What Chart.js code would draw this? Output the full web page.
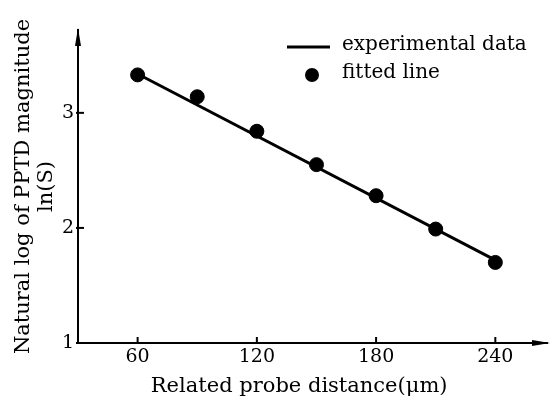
<!DOCTYPE html>
<html><head><meta charset="utf-8">
<script src="https://cdn.jsdelivr.net/npm/chart.js@4/dist/chart.umd.min.js"></script>
<style>html,body{margin:0;padding:0;background:#fff}#wrap{width:555px;height:397px}</style>
</head><body><div id="wrap"><canvas id="c" width="555" height="397"></canvas></div>
<script>
const distances = [60, 90, 120, 150, 180, 210, 240];
const lnS = [3.33, 3.14, 2.84, 2.55, 2.28, 1.99, 1.70];
const fitX = [62, 240];
const fitY = [3.32, 1.72];
const xTicks = [60, 120, 180, 240];
const yTicks = [1, 2, 3];
const lineLabel = 'experimental data';
const dotLabel = 'fitted line';
const xTitle = 'Related probe distance(\u03bcm)    ';
const yTitle = ['Natural log of PPTD magnitude', 'ln(S)'];

const FONT = '"DejaVu Serif", "Liberation Serif", serif';

const decor = {
  id: 'decor',
  afterDraw(chart) {
    const ctx = chart.ctx, xs = chart.scales.x, ys = chart.scales.y;
    const ca = chart.chartArea;
    ctx.save();
    ctx.strokeStyle = '#000'; ctx.fillStyle = '#000'; ctx.lineWidth = 2;
    xTicks.forEach(v => { const px = xs.getPixelForValue(v); ctx.beginPath(); ctx.moveTo(px, ca.bottom); ctx.lineTo(px, ca.bottom - 6); ctx.stroke(); });
    yTicks.forEach(v => { const py = ys.getPixelForValue(v); ctx.beginPath(); ctx.moveTo(ca.left - 2, py); ctx.lineTo(ca.left + 6, py); ctx.stroke(); });
    ctx.beginPath(); ctx.moveTo(ca.left, ca.top - 2); ctx.lineTo(ca.left - 3, ca.top + 16); ctx.lineTo(ca.left + 3, ca.top + 16); ctx.closePath(); ctx.fill();
    ctx.beginPath(); ctx.moveTo(ca.right + 3, ca.bottom); ctx.lineTo(ca.right - 15, ca.bottom - 3); ctx.lineTo(ca.right - 15, ca.bottom + 3); ctx.closePath(); ctx.fill();
    const lx = 287, ly1 = 47, ly2 = 75, tx = 342;
    ctx.lineWidth = 3;
    ctx.beginPath(); ctx.moveTo(lx, ly1); ctx.lineTo(lx + 43, ly1); ctx.stroke();
    ctx.beginPath(); ctx.arc(lx + 25, ly2, 7, 0, Math.PI * 2); ctx.fill();
    ctx.font = '20px ' + FONT; ctx.textBaseline = 'middle'; ctx.textAlign = 'left';
    ctx.fillText(lineLabel, tx, ly1 - 2);
    ctx.fillText(dotLabel, tx, ly2 - 2);
    ctx.restore();
  }
};

new Chart(document.getElementById('c'), {
  type: 'scatter',
  data: {
    datasets: [
      { label: lineLabel, type: 'line', data: fitX.map((x, i) => ({x, y: fitY[i]})), borderColor: '#000', borderWidth: 3, pointRadius: 0, fill: false, order: 2 },
      { label: dotLabel, data: distances.map((x, i) => ({x, y: lnS[i]})), backgroundColor: '#000', borderColor: '#000', pointRadius: 7, order: 1 }
    ]
  },
  options: {
    responsive: false, animation: false,
    layout: { padding: { top: 30, right: 5, left: 0, bottom: 0 } },
    plugins: { legend: { display: false }, tooltip: { enabled: false } },
    scales: {
      x: {
        type: 'linear', min: 30, max: 266,
        afterBuildTicks: s => { s.ticks = xTicks.map(v => ({value: v})); },
        afterFit: s => { s.height = 54; },
        grid: { display: false, drawTicks: false },
        border: { display: true, color: '#000', width: 2 },
        ticks: { color: '#000', font: { family: FONT, size: 19 }, padding: 3 },
        title: { display: true, text: xTitle, color: '#000', font: { family: FONT, size: 21, lineHeight: 1.0 }, padding: { top: 0, bottom: 0 } }
      },
      y: {
        type: 'linear', min: 1, max: 3.72,
        afterBuildTicks: s => { s.ticks = yTicks.map(v => ({value: v})); },
        afterFit: s => { s.width = 78; },
        grid: { display: false, drawTicks: false },
        border: { display: true, color: '#000', width: 2 },
        ticks: { color: '#000', font: { family: FONT, size: 19 }, padding: 4 },
        title: { display: true, text: yTitle, color: '#000', font: { family: FONT, size: 21, lineHeight: 1.05 }, padding: { top: 13, bottom: 0 } }
      }
    }
  },
  plugins: [decor]
});
</script></body></html>
